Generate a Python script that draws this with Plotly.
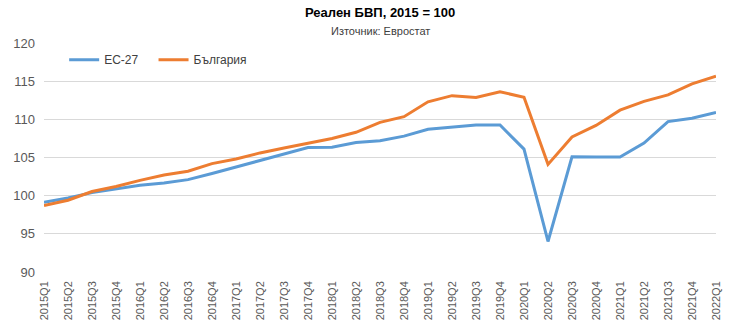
import plotly.graph_objects as go

quarters = ["2015Q1","2015Q2","2015Q3","2015Q4","2016Q1","2016Q2","2016Q3","2016Q4",
            "2017Q1","2017Q2","2017Q3","2017Q4","2018Q1","2018Q2","2018Q3","2018Q4",
            "2019Q1","2019Q2","2019Q3","2019Q4","2020Q1","2020Q2","2020Q3","2020Q4",
            "2021Q1","2021Q2","2021Q3","2021Q4","2022Q1"]
eu27 = [99.15, 99.7, 100.4, 100.9, 101.35, 101.65, 102.1, 102.9,
        103.75, 104.6, 105.5, 106.3, 106.35, 106.95, 107.2, 107.8,
        108.7, 109.0, 109.25, 109.25, 106.1, 94.0, 105.1, 105.05,
        105.05, 106.9, 109.7, 110.15, 110.9]
bulgaria = [98.7, 99.4, 100.55, 101.2, 102.0, 102.7, 103.2, 104.2,
            104.8, 105.6, 106.25, 106.9, 107.5, 108.3, 109.6, 110.35,
            112.3, 113.1, 112.85, 113.6, 112.9, 104.1, 107.7, 109.2,
            111.2, 112.35, 113.2, 114.65, 115.65]

title = "Реален БВП, 2015 = 100"
subtitle = "Източник: Евростат"

font_family = "Liberation Sans, Arial, sans-serif"

fig = go.Figure()
fig.add_trace(go.Scatter(x=quarters, y=eu27, mode="lines", name="ЕС-27",
                         line=dict(color="#5B9BD5", width=3), legend="legend"))
fig.add_trace(go.Scatter(x=quarters, y=bulgaria, mode="lines", name="България",
                         line=dict(color="#ED7D31", width=3), legend="legend2"))

plot_h = 336 - 43 - 64
legend_style = dict(orientation="h", y=0.99, xanchor="left", yanchor="top",
                    bgcolor="rgba(0,0,0,0)", font=dict(size=12, color="#404040"),
                    itemwidth=30)
fig.update_layout(
    width=730, height=336,
    margin=dict(l=44, r=8, t=43, b=64),
    paper_bgcolor="white", plot_bgcolor="white",
    font=dict(family=font_family, color="#595959", size=12),
    legend=dict(x=0.03, **legend_style),
    legend2=dict(x=0.163, **legend_style),
    showlegend=True,
)
fig.add_annotation(text="<b>" + title + "</b>", xref="paper", yref="paper",
                   x=0.5, y=1 + (43 - 13) / plot_h, yanchor="middle", showarrow=False,
                   font=dict(size=13, color="#000000", family=font_family))
fig.add_annotation(text=subtitle, xref="paper", yref="paper",
                   x=0.5, y=1 + (43 - 31) / plot_h, yanchor="middle", showarrow=False,
                   font=dict(size=11, color="#404040", family=font_family))

fig.update_xaxes(type="category", tickangle=-90, showgrid=False, showline=False,
                 ticks="", tickfont=dict(size=11, color="#595959"), ticklabelstandoff=6)
fig.update_yaxes(range=[90, 120], dtick=5, showgrid=True, gridcolor="#D9D9D9",
                 gridwidth=1, zeroline=False, showline=False, ticks="",
                 tickfont=dict(size=13, color="#595959"), ticklabelstandoff=8)

fig.write_html("out.html")
